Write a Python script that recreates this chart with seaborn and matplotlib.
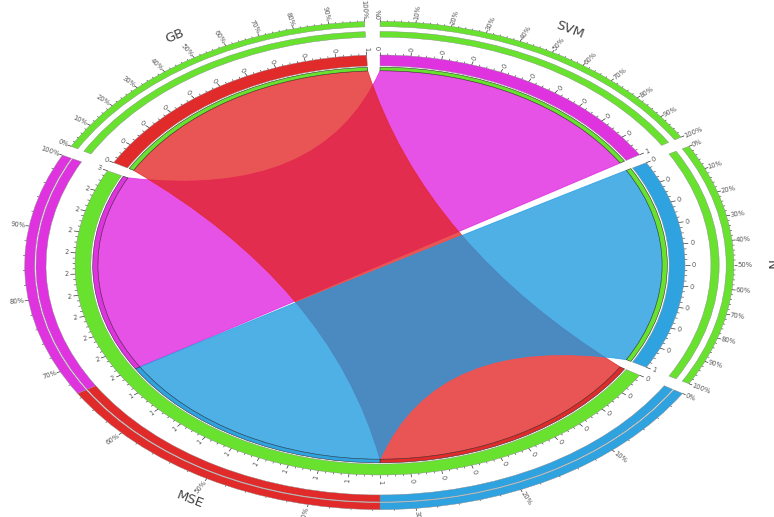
import numpy as np
import matplotlib
matplotlib.use("Agg")
import matplotlib.pyplot as plt
import seaborn as sns
from matplotlib.path import Path
from matplotlib.patches import PathPatch, Wedge

# ---------------- data ----------------
segments = ["GB", "SVM", "N", "MSE"]
seg_sizes = [1, 1, 1, 3]
seg_colors = ["#e12a2a", "#e033e0", "#2fa2e0", "#68e22f"]
ribbon_colors = {"GB": "#e32424", "SVM": "#e020e0", "N": "#1e9ae0"}
link_src = ["SVM", "GB", "N"]          # drawing order
link_dst = ["MSE", "MSE", "MSE"]
link_val = [1, 1, 1]
mse_inner_order = ["GB", "N", "SVM"]   # order of link ends along MSE
mse_ring_order = ["N", "GB", "SVM"]    # outer ring composition of MSE
mse_ring_share = [1 / 3, 1 / 3, 1 / 3]
pct_values = [0, 10, 20, 30, 40, 50, 60, 70, 80, 90, 100]

# ---------------- style ----------------
sns.set_theme(style="white")
plt.rcParams["font.family"] = ["DejaVu Sans"]
col = dict(zip(segments, seg_colors))
size = dict(zip(segments, seg_sizes))

W, H = 774, 517
fig = plt.figure(figsize=(W / 100, H / 100), dpi=100)
ax = fig.add_axes([0, 0, 1, 1])
cx, cy, sx, sy = 380, 265, 305, 210
ax.set_xlim(-cx / sx, (W - cx) / sx)
ax.set_ylim(-(H - cy) / sy, cy / sy)
ax.axis("off")

gap = 2.5
unit = (360 - gap * len(segments)) / sum(seg_sizes)
order_cw = ["SVM", "N", "MSE", "GB"]
start = {}
a = 90.0
for s in order_cw:
    start[s] = a
    a -= size[s] * unit + gap


def ang(seg, pos):
    return start[seg] - pos * unit


def pt(t, r):
    return (r * np.cos(np.radians(t)), r * np.sin(np.radians(t)))


def band(t_a, t_b, r_in, r_out, color, ec="none", lw=0.0, z=3):
    lo, hi = min(t_a, t_b), max(t_a, t_b)
    ax.add_patch(Wedge((0, 0), r_out, lo, hi, width=r_out - r_in,
                       facecolor=color, edgecolor=ec, linewidth=lw, zorder=z))


def radial_text(t, r, s, fs, color="#555555"):
    th = np.radians(t)
    phi = np.degrees(np.arctan2(sy * np.sin(th), sx * np.cos(th)))
    x, y = pt(t, r)
    if np.cos(th) >= -1e-9:
        rot, ha = phi, "left"
    else:
        rot, ha = phi - 180, "right"
    ax.text(x, y, s, rotation=rot, ha=ha, va="center", fontsize=fs,
            color=color, rotation_mode="anchor", zorder=6)


def tangent_text(t, r, s, fs, color="#444444"):
    th = np.radians(t)
    if np.sin(th) >= -1e-9:
        rot = np.degrees(np.arctan2(-sy * np.cos(th), sx * np.sin(th)))
    else:
        rot = np.degrees(np.arctan2(sy * np.cos(th), -sx * np.sin(th)))
    x, y = pt(t, r)
    ax.text(x, y, s, rotation=rot, ha="center", va="center", fontsize=fs,
            color=color, rotation_mode="anchor", zorder=6)


def tick(t, r0, r1, lw=0.5):
    p0, p1 = pt(t, r0), pt(t, r1)
    ax.plot([p0[0], p1[0]], [p0[1], p1[1]], color="#333333", lw=lw,
            zorder=5, solid_capstyle="butt")


# ---------------- ribbons ----------------
RC = 0.925


def arc_pts(t1, t2, r=RC, n=80):
    return [pt(t, r) for t in np.linspace(t1, t2, n)]


def ctrl(t1, t2):
    d = ((t2 - t1 + 180) % 360) - 180
    mid = t1 + d / 2
    k = max(0.0, 0.555 * (1 - abs(d) / 180))
    return pt(mid, k)


def ribbon(a1, a2, b1, b2, color):
    A = arc_pts(a1, a2)
    B = arc_pts(b1, b2)
    verts = list(A)
    codes = [Path.MOVETO] + [Path.LINETO] * (len(A) - 1)
    verts += [ctrl(a2, b1), B[0]]
    codes += [Path.CURVE3] * 2
    verts += B[1:]
    codes += [Path.LINETO] * (len(B) - 1)
    verts += [ctrl(b2, a1), A[0]]
    codes += [Path.CURVE3] * 2
    verts.append(A[0])
    codes.append(Path.CLOSEPOLY)
    ax.add_patch(PathPatch(Path(verts, codes), facecolor=color, alpha=0.78,
                           edgecolor=color, linewidth=0.6, zorder=2))


mse_off = {}
o = 0.0
for s in mse_inner_order:
    mse_off[s] = o
    o += link_val[link_src.index(s)]

for s, d, v in zip(link_src, link_dst, link_val):
    a1, a2 = ang(s, 0), ang(s, v)
    b1, b2 = ang(d, mse_off[s]), ang(d, mse_off[s] + v)
    ribbon(a1, a2, b1, b2, ribbon_colors[s])
    # thin strips showing the partner colour
    band(a1, a2, 0.925, 0.942, col[d], ec="#333333", lw=0.4, z=3)
    band(b1, b2, 0.925, 0.942, col[s], ec="#333333", lw=0.4, z=3)

# ---------------- segment bands, ticks ----------------
for s in segments:
    t0, t1 = ang(s, 0), ang(s, size[s])
    band(t0, t1, 0.948, 1.0, col[s], ec="#888888", lw=0.3)
    n = int(round(size[s] / 0.025))
    for i in range(n + 1):
        v = round(i * 0.025, 6)
        t = ang(s, v)
        if i % 4 == 0:
            tick(t, 1.0, 1.016)
            radial_text(t, 1.022, str(int(round(v, 6) + 1e-9)), 4.8)
        else:
            tick(t, 1.0, 1.008, lw=0.4)

    # outer rings
    if s == "MSE":
        rings = [(1.095, 1.128), (1.132, 1.165)]
        parts = []
        c = 0.0
        for p, sh in zip(mse_ring_order, mse_ring_share):
            parts.append((c, c + sh, col[p]))
            c += sh
    else:
        rings = [(1.085, 1.112), (1.135, 1.16)]
        parts = [(0.0, 1.0, col["MSE"])]
    for r_in, r_out in rings:
        for f0, f1, c in parts:
            band(ang(s, f0 * size[s]), ang(s, f1 * size[s]), r_in, r_out, c,
                 ec="#888888", lw=0.3)
    r_edge = rings[-1][1]
    for p in range(0, 101, 2):
        t = ang(s, p / 100 * size[s])
        if p in pct_values:
            tick(t, r_edge, r_edge + 0.012)
            radial_text(t, r_edge + 0.012, f"{p}%", 4.9)
        else:
            tick(t, r_edge, r_edge + 0.006, lw=0.4)

    tangent_text((t0 + t1) / 2, 1.28, s, 9.5)

fig.savefig("out.png", dpi=100)
